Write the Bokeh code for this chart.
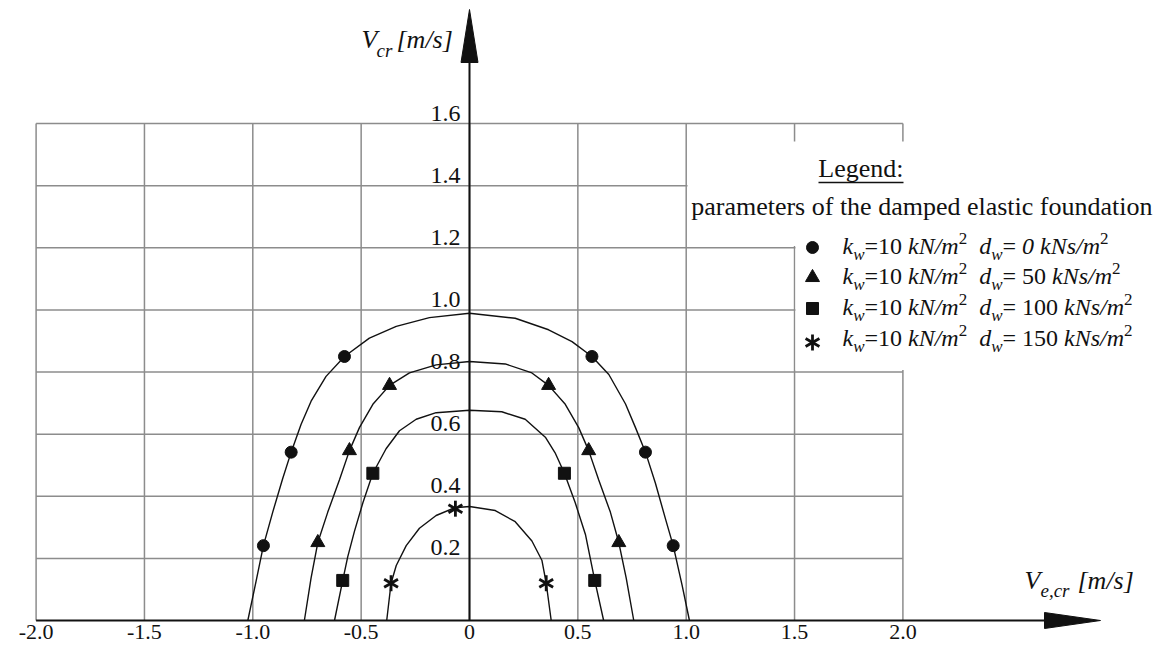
from bokeh.plotting import figure
from bokeh.models import Range1d
from bokeh.core.properties import value
from bokeh.embed import file_html
from bokeh.resources import INLINE
import math

# ---------------- data ----------------
x_ticks = [-2.0, -1.5, -1.0, -0.5, 0.0, 0.5, 1.0, 1.5, 2.0]
x_tick_labels = ["-2.0", "-1.5", "-1.0", "-0.5", "0", "0.5", "1.0", "1.5", "2.0"]
y_ticks = [0.2, 0.4, 0.6, 0.8, 1.0, 1.2, 1.4, 1.6]
y_tick_labels = ["0.2", "0.4", "0.6", "0.8", "1.0", "1.2", "1.4", "1.6"]

# d_w = 0 kNs/m2 (circles)
c0_x = [-1.023, -0.985, -0.951, -0.908, -0.862, -0.823, -0.777, -0.731, -0.662, -0.577,
        -0.462, -0.338, -0.185, 0.0, 0.211, 0.365, 0.473, 0.565, 0.643, 0.720, 0.766,
        0.812, 0.858, 0.904, 0.940, 0.981, 1.015]
c0_y = [0.0, 0.126, 0.241, 0.349, 0.457, 0.542, 0.632, 0.706, 0.786, 0.850,
        0.909, 0.947, 0.975, 0.989, 0.973, 0.936, 0.898, 0.850, 0.792, 0.697, 0.621,
        0.542, 0.442, 0.328, 0.241, 0.114, 0.0]
m0_x = [-0.951, -0.823, -0.577, 0.565, 0.812, 0.940]
m0_y = [0.241, 0.542, 0.850, 0.850, 0.542, 0.241]

# d_w = 50 kNs/m2 (triangles)
c1_x = [-0.762, -0.731, -0.700, -0.654, -0.600, -0.554, -0.508, -0.446, -0.369, -0.277,
        -0.154, 0.0, 0.165, 0.288, 0.365, 0.442, 0.504, 0.550, 0.596, 0.650, 0.689,
        0.723, 0.758]
c1_y = [0.0, 0.137, 0.251, 0.349, 0.453, 0.547, 0.621, 0.696, 0.757, 0.797,
        0.823, 0.834, 0.826, 0.797, 0.757, 0.696, 0.621, 0.547, 0.453, 0.349, 0.251,
        0.137, 0.0]
m1_x = [-0.700, -0.554, -0.369, 0.365, 0.550, 0.689]
m1_y = [0.251, 0.547, 0.757, 0.757, 0.547, 0.251]

# d_w = 100 kNs/m2 (squares)
c2_x = [-0.623, -0.585, -0.562, -0.531, -0.492, -0.446, -0.385, -0.323, -0.246, -0.154,
        0.0, 0.149, 0.257, 0.350, 0.395, 0.438, 0.488, 0.535, 0.578, 0.619]
c2_y = [0.0, 0.129, 0.205, 0.287, 0.379, 0.474, 0.553, 0.611, 0.648, 0.669,
        0.677, 0.672, 0.648, 0.590, 0.540, 0.474, 0.379, 0.277, 0.129, 0.0]
m2_x = [-0.585, -0.446, 0.438, 0.578]
m2_y = [0.129, 0.474, 0.474, 0.129]

# d_w = 150 kNs/m2 (asterisks)
c3_x = [-0.382, -0.362, -0.338, -0.292, -0.231, -0.154, -0.069, 0.0, 0.119, 0.211,
        0.288, 0.334, 0.354, 0.377]
c3_y = [0.0, 0.120, 0.177, 0.241, 0.297, 0.338, 0.363, 0.367, 0.354, 0.318,
        0.256, 0.194, 0.120, 0.0]
m3_x = [-0.362, -0.065, 0.354]
m3_y = [0.120, 0.360, 0.120]

legend_values = ["0", "50", "100", "150"]

# ---------------- layout helpers (picture pixels -> data) ----------------
W, H = 1155, 645
X0, SX = 469.0, 216.7
Y0, SY = 620.0, 310.6


def dx(px):
    return (px - X0) / SX


def dy(py):
    return (Y0 - py) / SY


FONT = value("Liberation Serif")
INK = "#111111"

p = figure(width=W, height=H, x_range=Range1d(dx(0), dx(W)),
           y_range=Range1d(dy(H), dy(0)), output_backend="svg",
           toolbar_location=None, x_axis_location=None, y_axis_location=None,
           min_border=0, outline_line_color=None)
p.grid.visible = False
p.background_fill_color = "white"
p.border_fill_color = "white"


def txt(xs, ys, texts, size, style="normal", align="left"):
    # raise by the offset the renderer adds below an alphabetic baseline
    ys = [y + 0.35 * size / SY for y in ys]
    p.text(x=xs, y=ys, text=texts, text_font=FONT, text_font_size=value(f"{size}px"),
           text_font_style=value(style), text_align=value(align),
           text_baseline=value("alphabetic"), text_color=INK)


# ---------------- grid ----------------
GRID = "#8c8c8c"
p.segment(x0=x_ticks, y0=[0.0] * len(x_ticks), x1=x_ticks,
          y1=[y_ticks[-1]] * len(x_ticks), line_color=GRID, line_width=1.5)
p.segment(x0=[x_ticks[0]] * len(y_ticks), y0=y_ticks, x1=[x_ticks[-1]] * len(y_ticks),
          y1=y_ticks, line_color=GRID, line_width=1.5)

# white legend background that interrupts the grid
p.quad(left=[dx(687), dx(795)], right=[dx(1170), dx(1170)],
       top=[dy(141), dy(245)], bottom=[dy(245.5), dy(369.5)],
       fill_color="white", line_color=None)

# ---------------- axes with arrows ----------------
XTIP, XBASE = 1100, 1044
p.line(x=[x_ticks[0], dx(XBASE + 2)], y=[0, 0], line_color=INK, line_width=2)
p.patch(x=[dx(XBASE), dx(XTIP), dx(XBASE)], y=[dy(Y0 - 8), 0.0, dy(Y0 + 8)],
        fill_color=INK, line_color=INK)
YTIP, YBASE = 9, 62
p.line(x=[0, 0], y=[0, dy(YBASE - 2)], line_color=INK, line_width=2)
p.patch(x=[dx(X0 - 8.5), 0.0, dx(X0 + 8.5)], y=[dy(YBASE), dy(YTIP), dy(YBASE)],
        fill_color=INK, line_color=INK)

# ---------------- curves ----------------
for cx, cy in [(c0_x, c0_y), (c1_x, c1_y), (c2_x, c2_y), (c3_x, c3_y)]:
    p.line(x=cx, y=cy, line_color=INK, line_width=1.4)


def asterisk(xs, ys, size=16):
    for ang in (math.pi / 2, math.pi / 6, -math.pi / 6):
        p.scatter(x=xs, y=ys, marker="dash", size=size, angle=ang,
                  line_color=INK, line_width=2.8)


p.scatter(x=m0_x, y=m0_y, marker="circle", size=12, fill_color=INK, line_color=INK)
p.scatter(x=m1_x, y=m1_y, marker="triangle", size=14, fill_color=INK, line_color=INK)
p.scatter(x=m2_x, y=m2_y, marker="square", size=12, fill_color=INK, line_color=INK)
asterisk(m3_x, m3_y)

# ---------------- tick labels ----------------
txt(x_ticks, [dy(639)] * len(x_ticks), x_tick_labels, 22, align="center")
txt([dx(460)] * len(y_ticks), [v + 2.0 / SY for v in y_ticks], y_tick_labels, 24,
    align="right")

# ---------------- axis titles ----------------
txt([dx(361)], [dy(48)], ["V"], 26, "italic")
txt([dx(376)], [dy(57)], ["cr"], 19, "italic")
txt([dx(396)], [dy(48)], ["[m/s]"], 26, "italic")

XL = 1024
txt([dx(XL)], [dy(589)], ["V"], 26, "italic")
txt([dx(XL + 16)], [dy(597)], ["e,cr"], 19, "italic")
txt([dx(XL + 53)], [dy(589)], ["[m/s]"], 26, "italic")

# ---------------- legend ----------------
txt([dx(903)], [dy(177)], ["Legend:"], 26, align="right")
p.line(x=[dx(818), dx(903)], y=[dy(182), dy(182)], line_color=INK, line_width=1.3)
txt([dx(1152)], [dy(215)], ["parameters of the damped elastic foundation"], 26,
    align="right")

row_base = [254, 284, 315, 346]
row_mark = [247, 277, 308, 342]
LX = 812
p.scatter(x=[dx(LX)], y=[dy(row_mark[0])], marker="circle", size=12, fill_color=INK, line_color=INK)
p.scatter(x=[dx(LX)], y=[dy(row_mark[1])], marker="triangle", size=14, fill_color=INK, line_color=INK)
p.scatter(x=[dx(LX)], y=[dy(row_mark[2])], marker="square", size=12, fill_color=INK, line_color=INK)
asterisk([dx(LX)], [dy(row_mark[3])])

F, S = 24, 17
for i, (bl, val) in enumerate(zip(row_base, legend_values)):
    vstyle = "italic" if i == 0 else "normal"
    pieces = [
        ("k", F, "italic", 0, 0.444 * F),
        ("w", S, "italic", 6, 0.667 * S),
        ("=10", F, "normal", 0, 1.564 * F + 0.25 * F),
        ("kN/m", F, "italic", 0, 2.111 * F),
        ("2", S, "normal", -10, 0.5 * S + 0.5 * F),
        ("d", F, "italic", 0, 0.5 * F),
        ("w", S, "italic", 6, 0.667 * S),
        ("= ", F, "normal", 0, 0.814 * F),
        (val, F, vstyle, 0, 0.5 * F * len(val) + 0.25 * F),
        ("kNs/m", F, "italic", 0, 2.5 * F),
        ("2", S, "normal", -10, 0.5 * S),
    ]
    cx = 842.0
    for t, size, style, off, adv in pieces:
        txt([dx(cx)], [dy(bl + off)], [t], size, style)
        cx += adv

open("out.html", "w").write(file_html(p, INLINE))
